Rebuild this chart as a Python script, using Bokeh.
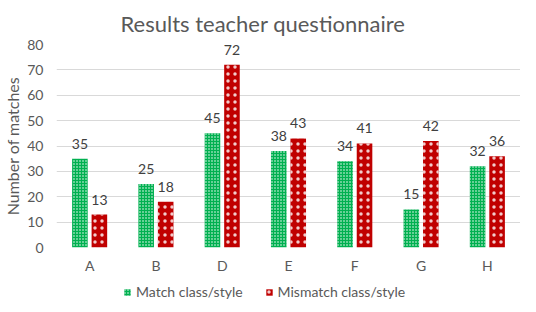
from bokeh.plotting import figure
from bokeh.models import ColumnDataSource, Range1d, Legend, LegendItem, FactorRange
from bokeh.layouts import column
from bokeh.transform import dodge
from bokeh.embed import file_html
from bokeh.resources import INLINE

categories = ["A", "B", "D", "E", "F", "G", "H"]
match_vals = [35, 25, 45, 38, 34, 15, 32]
mismatch_vals = [13, 18, 72, 43, 41, 42, 36]
series_names = ["Match class/style", "Mismatch class/style"]
y_ticks = [0, 10, 20, 30, 40, 50, 60, 70, 80]

FONT = "Lato"
GREEN = "#00B050"
RED = "#C00000"
GREY = "#595959"

GREEN_STYLE = dict(fill_color=GREEN, line_color=None, hatch_pattern=".",
                   hatch_color="white", hatch_scale=3, hatch_weight=0.6)
RED_STYLE = dict(fill_color=RED, line_color=None, hatch_pattern=".",
                 hatch_color="white", hatch_scale=7, hatch_weight=0.25, hatch_alpha=0.8)

src = ColumnDataSource(dict(cat=categories, m=match_vals, mm=mismatch_vals,
                            ml=[str(v) for v in match_vals],
                            mml=[str(v) for v in mismatch_vals]))

p = figure(width=520, height=276, x_range=FactorRange(*categories, range_padding=0),
           y_range=Range1d(0, 80), output_backend="svg", toolbar_location=None,
           title="Results teacher questionnaire",
           min_border_left=46, min_border_right=0, min_border_top=41, min_border_bottom=28)

p.title.align = "left"
p.title.offset = 64
p.title.standoff = 15
p.title.text_font = FONT
p.title.text_font_size = "22px"
p.title.text_font_style = "normal"
p.title.text_color = GREY

bw = 0.235
off = 0.147
p.vbar(x=dodge("cat", -off, range=p.x_range), top="m", width=bw, source=src, **GREEN_STYLE)
p.vbar(x=dodge("cat", off, range=p.x_range), top="mm", width=bw, source=src, **RED_STYLE)

p.text(x=dodge("cat", -off, range=p.x_range), y="m", text="ml", source=src,
       text_align="center", text_baseline="middle", y_offset=-15,
       text_font_size="14px", text_color="#404040", text_font={"value": FONT})
p.text(x=dodge("cat", off, range=p.x_range), y="mm", text="mml", source=src,
       text_align="center", text_baseline="middle", y_offset=-15,
       text_font_size="14px", text_color="#404040", text_font={"value": FONT})

p.outline_line_color = None
p.xgrid.grid_line_color = None
p.ygrid.grid_line_color = "#D9D9D9"
p.ygrid.ticker = y_ticks
p.yaxis.ticker = y_ticks

for ax in (p.xaxis, p.yaxis):
    ax.axis_line_color = None
    ax.major_tick_line_color = None
    ax.minor_tick_line_color = None
    ax.major_label_text_font = FONT
    ax.major_label_text_font_size = "14px"
    ax.major_label_text_color = GREY

p.yaxis.major_label_standoff = 7
p.xaxis.major_label_standoff = 3
p.yaxis.axis_label = "Number of matches"
p.yaxis.axis_label_text_font = FONT
p.yaxis.axis_label_text_font_size = "16px"
p.yaxis.axis_label_text_font_style = "normal"
p.yaxis.axis_label_text_color = GREY
p.yaxis.axis_label_standoff = 2

# legend strip (separate small figure below the chart, no axes)
lg = figure(width=520, height=24, x_range=Range1d(0, 1), y_range=Range1d(0, 1),
            x_axis_type=None, y_axis_type=None,
            output_backend="svg", toolbar_location=None,
            min_border_left=0, min_border_right=0, min_border_top=0, min_border_bottom=0)
lg.grid.visible = False
lg.outline_line_color = None
offscreen = ColumnDataSource(dict(x=[5], top=[5]))
g1 = lg.vbar(x="x", top="top", width=0.1, source=offscreen, **GREEN_STYLE)
g2 = lg.vbar(x="x", top="top", width=0.1, source=offscreen, **RED_STYLE)
legend = Legend(items=[LegendItem(label=series_names[0], renderers=[g1]),
                       LegendItem(label=series_names[1], renderers=[g2])],
                orientation="horizontal", location=(67, 0),
                label_text_font=FONT, label_text_font_size="14px",
                label_text_color=GREY, glyph_width=8, glyph_height=8,
                label_standoff=5, spacing=22, padding=0, margin=0,
                border_line_color=None, background_fill_alpha=0)
lg.add_layout(legend, "center")

layout = column(p, lg, spacing=0)
open("out.html", "w").write(file_html(layout, INLINE))
